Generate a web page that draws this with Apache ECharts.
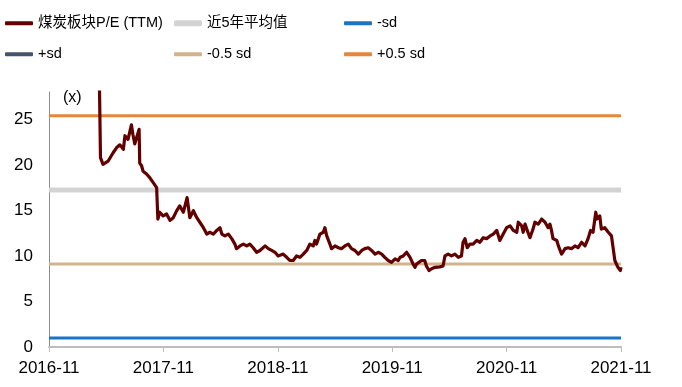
<!DOCTYPE html>
<html>
<head>
<meta charset="utf-8">
<script src="https://cdn.jsdelivr.net/npm/echarts@6/dist/echarts.min.js"></script>
<style>
html,body{margin:0;padding:0;background:#fff;}
#c{width:682px;height:387px;}
</style>
</head>
<body>
<div id="c"></div>
<script>
// ---- data ----
const seriesNames = ['煤炭板块P/E (TTM)', '近5年平均值', '-sd', '+sd', '-0.5 sd', '+0.5 sd'];
const xTickLabels = ['2016-11', '2017-11', '2018-11', '2019-11', '2020-11', '2021-11'];
const yTickLabels = ['0', '5', '10', '15', '20', '25'];
const peDates = [
'2017-04-08','2017-04-13','2017-04-21','2017-05-07','2017-05-23','2017-06-04','2017-06-14','2017-06-25','2017-06-30','2017-07-10',
'2017-07-21','2017-07-26','2017-08-01','2017-08-07','2017-08-15','2017-08-17','2017-08-23','2017-08-28','2017-09-08','2017-09-18',
'2017-09-29','2017-10-10','2017-10-14','2017-10-20','2017-10-31','2017-11-11','2017-11-22','2017-12-02','2017-12-13','2017-12-23',
'2018-01-04','2018-01-16','2018-01-25','2018-02-05','2018-02-15','2018-02-24','2018-03-07','2018-03-18','2018-03-28','2018-04-08',
'2018-04-19','2018-04-29','2018-05-05','2018-05-15','2018-05-26','2018-06-06','2018-06-16','2018-06-21','2018-07-02','2018-07-13',
'2018-07-24','2018-08-03','2018-08-14','2018-08-25','2018-09-05','2018-09-21','2018-10-01','2018-10-12','2018-10-23','2018-11-02',
'2018-11-18','2018-11-29','2018-12-09','2018-12-15','2018-12-20','2018-12-31','2019-01-11','2019-01-22','2019-02-02','2019-02-11',
'2019-02-21','2019-02-26','2019-03-03','2019-03-14','2019-03-25','2019-03-30','2019-04-05','2019-04-15','2019-04-20','2019-05-01',
'2019-05-12','2019-05-22','2019-06-02','2019-06-13','2019-06-23','2019-07-04','2019-07-15','2019-07-26','2019-08-05','2019-08-16',
'2019-08-27','2019-09-07','2019-09-17','2019-09-28','2019-10-08','2019-10-19','2019-10-30','2019-11-10','2019-11-20','2019-11-26',
'2019-12-06','2019-12-17','2019-12-28','2020-01-07','2020-01-13','2020-01-18','2020-01-23','2020-02-03','2020-02-13','2020-02-18',
'2020-02-26','2020-03-05','2020-03-16','2020-04-01','2020-04-11','2020-04-17','2020-04-27','2020-05-08','2020-05-19','2020-05-30',
'2020-06-09','2020-06-14','2020-06-20','2020-06-27','2020-07-06','2020-07-16','2020-07-28','2020-08-07','2020-08-18','2020-08-29',
'2020-09-09','2020-09-19','2020-09-30','2020-10-10','2020-10-21','2020-11-01','2020-11-12','2020-11-22','2020-12-03','2020-12-08',
'2020-12-19','2020-12-24','2020-12-30','2021-01-04','2021-01-15','2021-01-25','2021-01-31','2021-02-10','2021-02-20','2021-03-02',
'2021-03-12','2021-03-18','2021-03-23','2021-03-28','2021-04-09','2021-04-14','2021-04-24','2021-05-05','2021-05-15','2021-05-26',
'2021-06-06','2021-06-16','2021-06-27','2021-07-08','2021-07-18','2021-07-26','2021-08-03','2021-08-12','2021-08-16','2021-08-25',
'2021-08-30','2021-09-10','2021-09-21','2021-10-01','2021-10-06','2021-10-12','2021-10-22','2021-10-30','2021-11-01'
];
const peValues = [
33.0,20.8,20.06,20.4,21.3,21.9,22.2,21.7,23.2,22.8,
24.4,23.3,22.3,23.0,23.9,20.2,19.9,19.3,19.0,18.6,
18.05,17.5,14.05,14.8,14.4,14.6,13.9,14.2,14.95,15.5,
14.8,16.4,14.2,14.96,14.2,13.7,13.1,12.4,12.6,12.4,
12.8,13.1,12.4,12.2,12.4,11.9,11.3,10.8,11.1,11.3,
11.1,11.3,10.9,10.4,10.6,11.1,10.8,10.6,10.4,10.0,
10.2,9.85,9.5,9.3,9.5,10.0,9.85,10.2,10.6,11.3,
11.1,11.7,11.3,12.4,12.6,13.1,12.2,11.3,10.8,11.1,
10.9,10.8,11.1,11.3,10.8,10.6,10.2,10.6,10.8,10.9,
10.6,10.2,10.4,10.2,9.85,9.5,9.3,9.67,9.5,9.85,
10.0,10.4,9.85,9.1,8.75,9.1,9.3,9.5,9.5,8.9,
8.4,8.6,8.75,8.8,8.9,10.0,10.2,10.0,10.2,9.85,
10.0,11.5,11.9,10.9,11.3,11.3,11.7,11.5,12.0,11.9,
12.2,12.4,12.8,11.7,12.4,13.1,13.3,12.8,12.6,13.7,
13.3,12.6,13.5,13.0,12.0,12.95,13.7,13.5,14.05,13.7,
13.1,13.5,12.8,11.9,11.7,11.1,10.2,10.8,10.9,10.8,
11.1,10.9,11.5,11.1,11.9,12.8,12.6,14.8,14.05,14.4,
12.95,13.1,12.6,12.2,12.0,9.5,8.75,8.4,8.75
];
const avg5y = 17.25;
const minusSd = 0.99;
const plusSd = 33.51;
const minusHalfSd = 9.12;
const plusHalfSd = 25.38;

// ---- helpers ----
function monthOffset(s) {
  const [y, m, d] = s.split('-').map(Number);
  const dim = new Date(y, m, 0).getDate();
  return (y - 2016) * 12 + (m - 11) + (d - 1) / dim;
}
const peData = peDates.map((d, i) => [monthOffset(d), peValues[i]]);
const xStart = monthOffset(xTickLabels[0] + '-01');
const xEnd = peData[peData.length - 1][0];
function flat(v) { return [[xStart, v], [xEnd, v]]; }

const FONT = "Arial, 'Liberation Sans', 'Noto Sans CJK SC', sans-serif";
const colors = ['#620000', '#d3d3d3', '#1c74c4', '#44546a', '#d2b48c', '#e4873b'];
const widths = [3, 5, 3, 3, 3, 3];

const legendPos = [[5, 16], [174, 16], [344, 16], [5, 47], [174, 47], [344, 47]];
const legends = seriesNames.map((n, i) => ({
  data: [{ name: n, icon: 'roundRect' }],
  left: legendPos[i][0], top: legendPos[i][1],
  padding: 0, itemWidth: 28, itemHeight: widths[i] + 1, itemGap: 0,
  textStyle: { fontSize: 14.5, color: '#000', fontFamily: FONT },
  selectedMode: false
}));

const lineVals = [null, avg5y, minusSd, plusSd, minusHalfSd, plusHalfSd];
const series = [];
for (let i = 1; i < 6; i++) {
  series.push({
    name: seriesNames[i], type: 'line', data: flat(lineVals[i]),
    symbol: 'none', lineStyle: { color: colors[i], width: widths[i] },
    itemStyle: { color: colors[i] }, z: 2, silent: true
  });
}
series.push({
  name: seriesNames[0], type: 'line', data: peData,
  symbol: 'none', lineStyle: { color: colors[0], width: 3.2, join: 'round' },
  itemStyle: { color: colors[0] }, z: 5, silent: true
});

const chart = echarts.init(document.getElementById('c'), null, { renderer: 'canvas' });
chart.setOption({
  animation: false,
  backgroundColor: '#fff',
  legend: legends,
  grid: { left: 49, right: 61, top: 92, bottom: 40, containLabel: false },
  xAxis: {
    type: 'value', min: 0, max: 60, interval: 12,
    axisLine: { show: true, lineStyle: { color: '#bdbdbd', width: 2 } },
    axisTick: { show: true, length: 5, lineStyle: { color: '#bdbdbd', width: 1 } },
    splitLine: { show: false },
    axisLabel: {
      fontSize: 17, color: '#000', fontFamily: FONT, margin: 13,
      formatter: v => xTickLabels[Math.round(v / 12)] || ''
    }
  },
  yAxis: {
    type: 'value', min: 0, max: 28, interval: 5,
    axisLine: { show: true, lineStyle: { color: '#8c8c8c', width: 1 } },
    axisTick: { show: false },
    splitLine: { show: false },
    axisLabel: {
      fontSize: 17, color: '#000', fontFamily: FONT, margin: 16,
      showMaxLabel: false,
      formatter: v => yTickLabels[Math.round(v / 5)] || ''
    }
  },
  graphic: [{
    type: 'text', left: 63, top: 90,
    style: { text: '(x)', fontSize: 16, fill: '#000', fontFamily: FONT }
  }],
  series: series
});
</script>
</body>
</html>
